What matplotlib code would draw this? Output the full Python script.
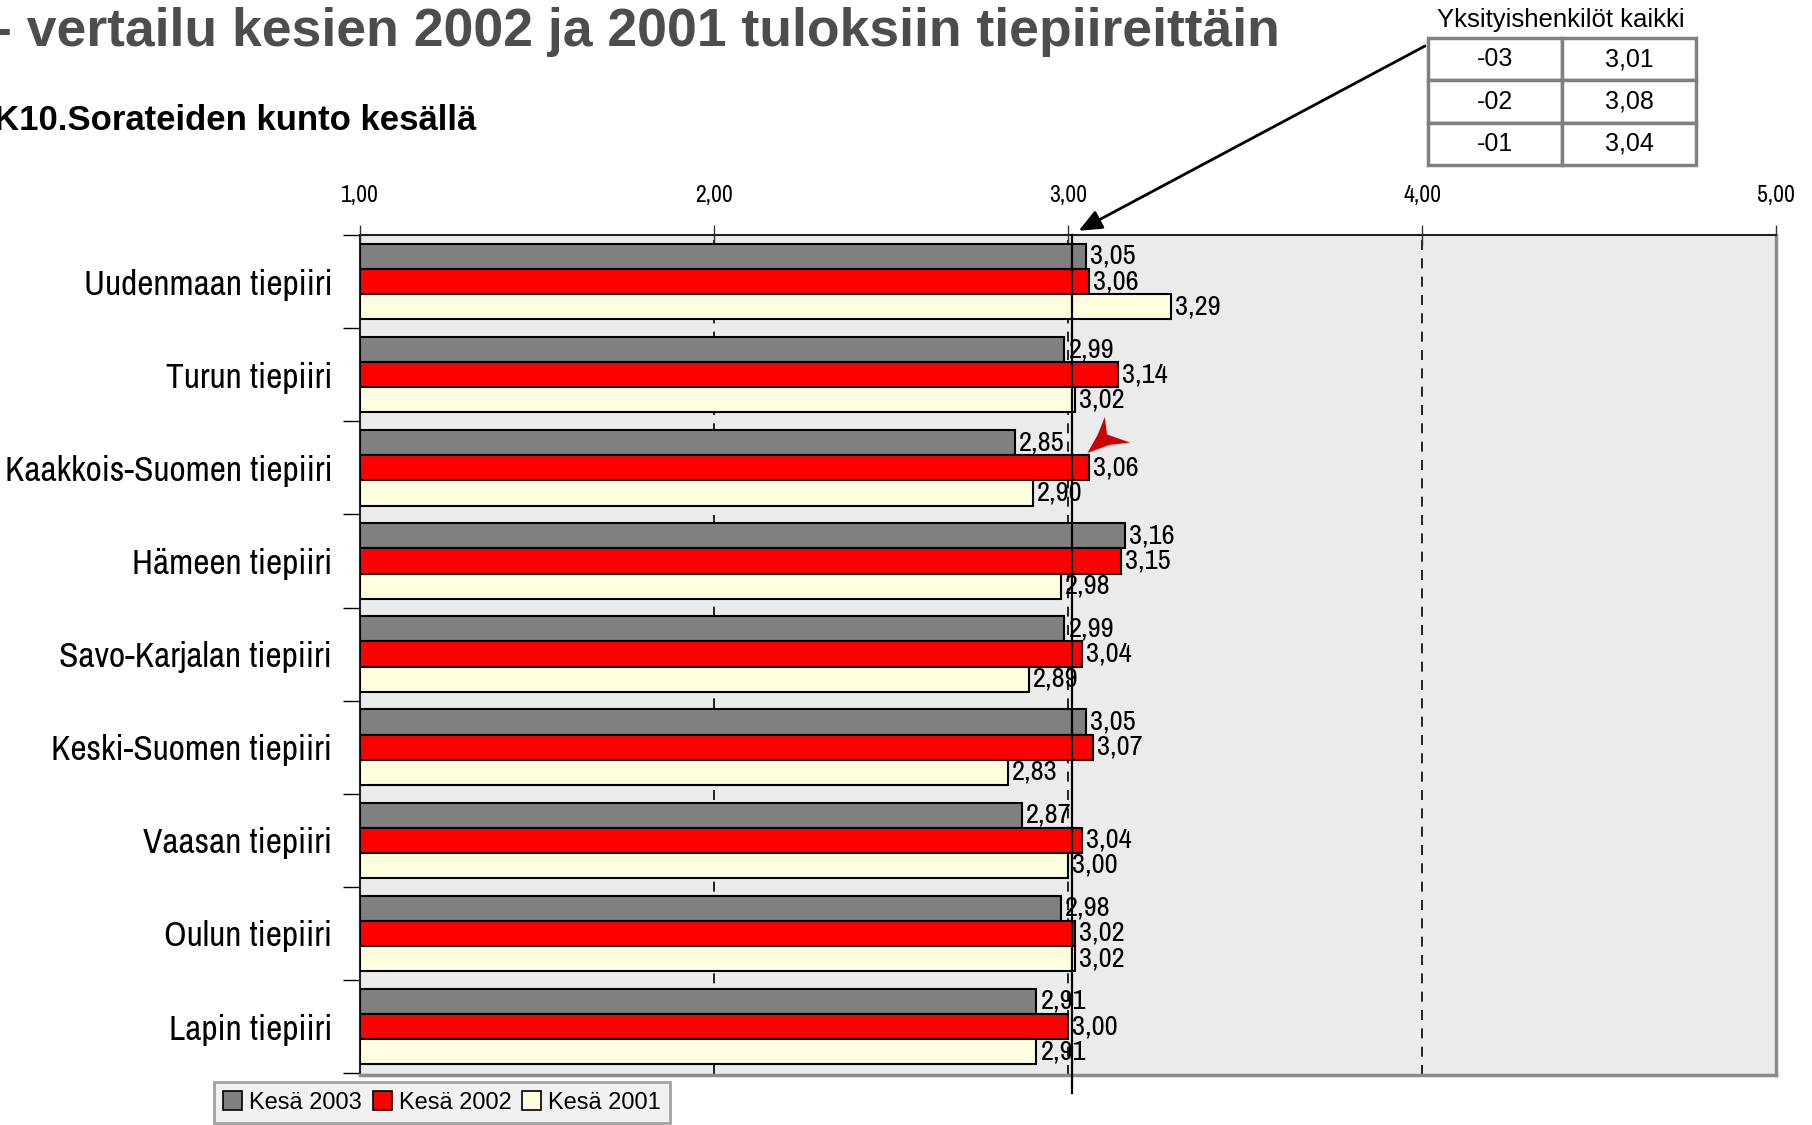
import matplotlib
matplotlib.use("Agg")
import matplotlib.pyplot as plt
from matplotlib.patches import Patch, Polygon
import numpy as np

SANS = ['Liberation Sans', 'DejaVu Sans']
NARROW = ['Archivo Narrow', 'Liberation Sans', 'DejaVu Sans']
plt.rcParams['font.family'] = SANS

categories = ["Uudenmaan tiepiiri", "Turun tiepiiri", "Kaakkois-Suomen tiepiiri",
              "Hämeen tiepiiri", "Savo-Karjalan tiepiiri", "Keski-Suomen tiepiiri",
              "Vaasan tiepiiri", "Oulun tiepiiri", "Lapin tiepiiri"]
kesa2003 = [3.05, 2.99, 2.85, 3.16, 2.99, 3.05, 2.87, 2.98, 2.91]
kesa2002 = [3.06, 3.14, 3.06, 3.15, 3.04, 3.07, 3.04, 3.02, 3.00]
kesa2001 = [3.29, 3.02, 2.90, 2.98, 2.89, 2.83, 3.00, 3.02, 2.91]
series_names = ["Kesä 2003", "Kesä 2002", "Kesä 2001"]
xticks = [1.0, 2.0, 3.0, 4.0, 5.0]
table_rows = [["-03", "3,01"], ["-02", "3,08"], ["-01", "3,04"]]
reference_value = 3.01

colors = ["#808080", "#FF0000", "#FFFFE0"]

W, H = 1812, 1125
fig = plt.figure(figsize=(W / 100, H / 100), dpi=100)

def fx(px):
    return px / W

def fy(py):
    return 1 - py / H

ax = fig.add_axes([fx(360), fy(1075), fx(1776) - fx(360), fy(235) - fy(1075)])
ax.set_facecolor("#EBEBEB")

n = len(categories)
y = np.arange(n)
bh = 0.27
series = [kesa2003, kesa2002, kesa2001]
offsets = [-bh, 0, bh]
for vals, off, col in zip(series, offsets, colors):
    ax.barh(y + off, np.array(vals) - 1.0, left=1.0, height=bh, color=col,
            edgecolor="black", linewidth=1.5, zorder=3)
    for yi, v in zip(y + off, vals):
        ax.text(v + 0.012, yi, f"{v:.2f}".replace(".", ","), va="center", ha="left",
                fontsize=20.5, family=NARROW, zorder=5)

ax.set_xlim(1.0, 5.0)
ax.set_ylim(n - 0.5 + 0.02, -0.5)
ax.xaxis.tick_top()
ax.set_xticks(xticks)
ax.set_xticklabels([f"{t:.2f}".replace(".", ",") for t in xticks], fontsize=17, family=NARROW)
ax.tick_params(axis='x', direction='inout', length=14, pad=14, width=1, color="#333333")
for t in xticks[1:-1]:
    ax.axvline(t, color="black", linestyle=(0, (6, 5)), linewidth=1.2, zorder=1)

ax.set_yticks(y)
ax.set_yticklabels(categories, fontsize=25.5, family=NARROW)
ax.tick_params(axis='y', length=0, pad=20)
ax.set_yticks(np.arange(n + 1) - 0.5, minor=True)
ax.tick_params(axis='y', which='minor', length=12, direction='out', width=1)

for s in ["left", "top"]:
    ax.spines[s].set_color("#222222")
    ax.spines[s].set_linewidth(1.5)
for s in ["right", "bottom"]:
    ax.spines[s].set_color("#8C8C8C")
    ax.spines[s].set_linewidth(2.5)

# reference line (Yksityishenkilöt kaikki -03)
ax.axvline(reference_value, ymin=-0.022, ymax=1.0, color="black", linewidth=1.6,
           zorder=4, clip_on=False)

# Titles
fig.text(fx(-6), fy(32), "- vertailu kesien 2002 ja 2001 tuloksiin tiepiireittäin",
         fontsize=38.5, fontweight="bold", color="#4D4D4D", va="center", ha="left")
fig.text(fx(-6), fy(120), "K10.Sorateiden kunto kesällä", fontsize=25, fontweight="bold",
         color="black", va="center", ha="left")

# Table
fig.text(fx(1561), fy(20), "Yksityishenkilöt kaikki", fontsize=18.5, ha="center", va="center")
tax = fig.add_axes([fx(1428), fy(165), fx(1696) - fx(1428), fy(38) - fy(165)])
tax.axis("off")
tbl = tax.table(cellText=table_rows, cellLoc="center", bbox=[0, 0, 1, 1])
tbl.auto_set_font_size(False)
for (r, c), cell in tbl.get_celld().items():
    cell.set_edgecolor("#808080")
    cell.set_linewidth(2.5)
    cell.get_text().set_fontsize(18)

# Arrow from table to reference line
ax.annotate("", xy=(reference_value + 0.02, 1.005), xycoords=("data", "axes fraction"),
            xytext=(fx(1425), fy(46)), textcoords="figure fraction",
            arrowprops=dict(arrowstyle="-|>,head_length=1.4,head_width=0.6",
                            color="black", lw=2, shrinkA=0, shrinkB=0),
            annotation_clip=False)

# red dart marker (display-pixel outline scaled to full size)
dart_disp = [(941, 392), (950, 376), (956, 361), (958, 376), (978, 383), (960, 385)]
dart = [(a * W / 1568, b * W / 1568) for a, b in dart_disp]
fig.add_artist(Polygon([(fx(a), fy(b)) for a, b in dart], closed=True,
                       transform=fig.transFigure, facecolor="#CC0000", edgecolor="none",
                       zorder=10))

# Legend
handles = [Patch(facecolor=c, edgecolor="black", linewidth=1.2) for c in colors]
leg = fig.legend(handles, series_names, loc="upper left",
                 bbox_to_anchor=(fx(214), fy(1082)), ncol=3, frameon=True, fancybox=False,
                 fontsize=17, handlelength=0.8, handleheight=0.8, handletextpad=0.3,
                 columnspacing=0.45, borderpad=0.4, borderaxespad=0)
leg.get_frame().set_edgecolor("#8C8C8C")
leg.get_frame().set_linewidth(2)
leg.get_frame().set_facecolor("#EEEEEE")

fig.savefig("out.png", dpi=100)
